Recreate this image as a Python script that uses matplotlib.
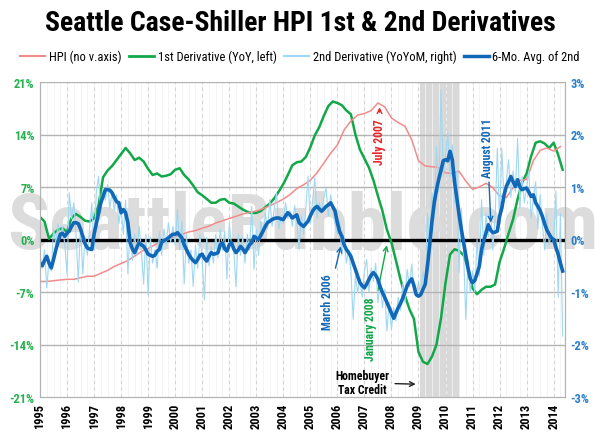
import numpy as np
import matplotlib
matplotlib.use("Agg")
import matplotlib.pyplot as plt
from matplotlib.lines import Line2D
from matplotlib import font_manager

# pick a narrow font if the machine has one, otherwise fall back to Liberation Sans
font_names = {f.name for f in font_manager.fontManager.ttflist}
narrow_names = sorted(n for n in font_names if 'Narrow' in n or 'Condensed' in n)
dejavu_cond = any(f.name == 'DejaVu Sans' and 'condensed' in str(f.stretch)
                  for f in font_manager.fontManager.ttflist)
if narrow_names:
    base_font = narrow_names[0]
    for pref in ('Roboto Condensed', 'Liberation Sans Narrow', 'Open Sans Condensed'):
        if pref in narrow_names:
            base_font = pref
            break
    narrow = True
elif dejavu_cond:
    base_font = 'DejaVu Sans'
    plt.rcParams['font.stretch'] = 'condensed'
    narrow = True
else:
    base_font = 'Liberation Sans'
    narrow = False
plt.rcParams['font.family'] = [base_font, 'DejaVu Sans']

if narrow:
    fs_title, fs_leg, fs_tick, fs_ann, fs_wm = 20, 9, 9, 8.5, 56
else:
    fs_title, fs_leg, fs_tick, fs_ann, fs_wm = 14.5, 7.4, 8, 7.8, 45

# ---- data ----
start_year = 1995

# 2nd derivative, YoYoM (right axis, %), monthly Jan 1995 - May 2014
second_deriv = [
    -0.30, -0.55, -0.20, -0.92, -0.40, -0.60, 0.20, -0.10, 0.30, 0.05, 0.25, -0.10,   # 1995
    -0.66, 0.89, 0.40, 0.70, 0.10, -0.81, 0.30, -0.66, 0.05, -0.30, 0.20, 0.70,       # 1996
    -0.20, 0.90, 1.20, 0.50, 0.95, 0.75, 1.05, 0.60, 0.90, 0.55, 0.85, 0.30,          # 1997
    0.60, 0.10, 0.75, -0.65, 0.20, -0.40, 0.10, -0.30, 0.25, -0.20, -0.85, 0.10,      # 1998
    -1.06, 0.05, -0.45, -0.20, -0.55, 0.15, -0.30, 0.20, -0.10, 0.32, -0.05, 0.25,    # 1999
    -0.10, 0.57, -0.20, 0.35, -0.84, 0.10, -0.45, -0.20, -0.89, -0.10, -0.55, 0.10,   # 2000
    -0.40, -1.15, 0.05, -0.50, -0.15, -0.45, 0.10, -0.35, 0.20, -0.20, 0.15, -0.75,   # 2001
    0.30, -0.10, -0.20, -0.90, 0.10, -0.30, 0.05, -0.45, 0.10, -0.20, 0.63, -0.57,    # 2002
    0.20, -0.30, 0.35, 0.05, 0.50, 0.20, 0.76, 0.25, 0.60, 0.89, 0.20, 0.45,          # 2003
    0.30, 0.70, 0.40, 0.55, 0.25, 0.65, 0.35, -0.19, 0.45, 0.10, 0.60, 1.20,          # 2004
    0.30, 0.75, 1.18, 0.40, 0.70, 0.50, 0.80, 0.98, 0.45, 0.85, 0.60, 0.30,           # 2005
    0.10, 0.35, -0.30, 0.05, -0.45, -0.20, -0.60, -1.52, -0.70, -1.01, -0.75, -1.10,  # 2006
    -0.60, -0.38, -1.00, -0.55, -0.80, -0.45, -1.20, -0.85, -1.30, -0.95, -1.74, -1.20,  # 2007
    -1.71, -1.30, -1.55, -1.10, -1.35, -0.85, -1.20, -0.57, -0.90, -0.47, -1.00, -1.08,  # 2008
    -0.80, -1.08, -0.60, -0.90, 0.51, -0.20, 0.89, 0.40, 1.77, 0.90, 2.85, 1.20,      # 2009
    1.60, 2.03, 1.20, 1.80, 0.70, 1.30, -0.63, 0.60, -0.20, -1.52, -0.40, -1.00,      # 2010
    -0.60, -1.00, 0.00, -0.70, 0.76, -0.30, 0.50, 0.05, 0.60, -0.20, 0.40, 1.74,      # 2011
    0.30, 1.74, 0.70, 1.10, 1.52, 0.80, 1.30, 0.90, 1.93, 0.60, 1.20, 0.70,           # 2012
    1.00, 1.30, 0.40, 0.80, 1.10, 0.20, 0.85, 0.30, -0.20, 0.50, -0.10, 0.10,         # 2013
    -0.10, 0.92, -1.10, 0.50, -1.84,                                                  # 2014
]

# 6-month average of the 2nd derivative (right axis, %), monthly
avg_6mo = [
    -0.45, -0.50, -0.40, -0.32, -0.45, -0.54, -0.38, -0.20, -0.05, 0.10, 0.12, 0.06,
    0.12, 0.16, 0.25, 0.32, 0.32, 0.30, 0.20, 0.06, -0.08, -0.16, -0.18, -0.19,
    0.10, 0.30, 0.51, 0.70, 0.82, 0.95, 0.95, 0.94, 0.89, 0.80, 0.72, 0.70,
    0.51, 0.57, 0.51, 0.32, -0.06, -0.18, -0.25, -0.15, -0.06, -0.10, -0.13, -0.20,
    -0.28, -0.30, -0.32, -0.30, -0.22, -0.19, -0.05, -0.02, 0.00, 0.03, 0.07, 0.10,
    0.10, 0.13, 0.08, 0.03, -0.10, -0.19, -0.28, -0.35, -0.40, -0.44, -0.38, -0.30,
    -0.28, -0.36, -0.41, -0.32, -0.25, -0.28, -0.27, -0.25, -0.10, -0.06, -0.18, -0.22,
    -0.10, -0.06, -0.18, -0.25, -0.20, -0.13, -0.18, -0.25, -0.18, -0.10, -0.06, 0.06,
    0.03, 0.00, 0.08, 0.16, 0.25, 0.32, 0.35, 0.38, 0.40, 0.41, 0.41, 0.39,
    0.38, 0.45, 0.51, 0.47, 0.41, 0.44, 0.47, 0.32, 0.28, 0.25, 0.30, 0.35,
    0.45, 0.54, 0.60, 0.63, 0.58, 0.54, 0.58, 0.63, 0.66, 0.70, 0.62, 0.54,
    0.32, 0.15, 0.06, -0.10, -0.19, -0.25, -0.32, -0.45, -0.57, -0.70, -0.82, -0.88,
    -0.92, -0.85, -0.76, -0.68, -0.63, -0.68, -0.76, -0.90, -1.01, -1.10, -1.20, -1.30,
    -1.40, -1.50, -1.40, -1.30, -1.22, -1.12, -1.00, -0.88, -0.80, -0.75, -0.88, -1.05,
    -1.08, -1.05, -0.95, -0.85, -0.50, -0.10, 0.35, 0.70, 0.95, 1.15, 1.32, 1.50,
    1.52, 1.50, 1.68, 1.52, 1.10, 0.80, 0.48, 0.20, -0.05, -0.30, -0.55, -0.75,
    -0.82, -0.78, -0.65, -0.51, -0.19, -0.02, 0.13, 0.28, 0.18, 0.13, 0.14, 0.16,
    0.44, 0.60, 0.85, 1.01, 1.10, 1.20, 1.10, 1.01, 1.14, 1.00, 0.95, 0.97,
    0.98, 0.90, 0.82, 0.85, 0.70, 0.63, 0.55, 0.44, 0.30, 0.18, 0.10, 0.03,
    0.00, -0.15, -0.28, -0.45, -0.60,
]

# 1st derivative, YoY (left axis, %), every other month (Jan, Mar, May, Jul, Sep, Nov)
first_deriv = [
    3.0, 2.4, 0.1, 0.8, 1.3, 1.5,          # 1995
    1.0, 2.9, 3.4, 3.0, 2.5, 2.4,          # 1996
    2.8, 4.6, 8.3, 9.2, 9.8, 10.6,         # 1997
    11.4, 12.2, 11.5, 10.6, 10.9, 10.4,    # 1998
    9.4, 8.6, 8.8, 8.4, 8.5, 8.7,          # 1999
    9.3, 9.5, 8.6, 8.0, 7.2, 6.3,          # 2000
    5.9, 5.4, 4.9, 4.9, 5.3, 5.4,          # 2001
    4.9, 4.8, 4.4, 4.0, 3.7, 3.5,          # 2002
    3.55, 3.8, 4.3, 4.8, 5.5, 6.4,         # 2003
    7.4, 8.6, 9.9, 10.3, 10.4, 11.0,       # 2004
    12.3, 13.9, 15.0, 16.5, 17.8, 18.4,    # 2005
    18.2, 17.9, 17.2, 16.7, 14.0, 12.0,    # 2006
    10.8, 9.6, 7.9, 5.8, 3.8, 1.3,         # 2007
    -0.4, -2.8, -5.3, -7.5, -9.3, -10.6,   # 2008
    -15.0, -16.3, -16.6, -15.6, -14.0, -10.5,  # 2009
    -5.8, -2.0, -1.3, -1.5, -2.1, -3.8,    # 2010
    -6.5, -7.3, -6.7, -6.3, -6.3, -6.0,    # 2011
    -3.0, -1.2, 0.8, 2.7, 5.4, 7.6,        # 2012
    8.8, 11.1, 12.9, 13.1, 12.8, 12.2,     # 2013
    12.9, 11.3, 9.3,                       # 2014
]

# Case-Shiller HPI (no vertical axis), quarterly (Jan, Apr, Jul, Oct)
hpi = [
    77.0, 77.0, 77.5, 78.0,
    78.4, 78.4, 79.4, 80.4,
    80.4, 82.3, 84.2, 86.7,
    88.6, 90.5, 93.4, 96.3,
    98.3, 100.7, 102.6, 104.0,
    106.0, 107.4, 108.9, 109.8,
    111.3, 112.7, 114.7, 116.1,
    117.6, 119.0, 120.5, 121.5,
    122.4, 123.9, 125.8, 127.8,
    130.1, 133.0, 136.9, 139.3,
    142.2, 147.1, 153.3, 159.6,
    164.9, 174.6, 180.4, 184.2,
    185.2, 187.1, 192.0, 189.5,
    182.3, 179.4, 177.0, 168.3,
    154.8, 151.4, 150.9, 150.4,
    147.0, 146.6, 148.0, 141.7,
    136.4, 137.9, 140.3, 137.4,
    132.1, 131.1, 137.4, 142.2,
    142.7, 154.8, 161.5, 163.0,
    161.0, 163.9,
]

tax_credit = (2009.04, 2010.54)
year_labels = list(range(1995, 2015))
left_ticks = [-21, -14, -7, 0, 7, 14, 21]
right_ticks = [-3, -2, -1, 0, 1, 2, 3]

t_month = start_year + np.arange(len(second_deriv)) / 12
t_bimonth = start_year + np.arange(len(first_deriv)) / 6
t_quarter = start_year + np.arange(len(hpi)) / 4

# ---- colours ----
c_hpi = '#f28b8b'
c_first = '#12a84a'
c_second = '#9fd8f2'
c_avg = '#1268b8'

fig = plt.figure(figsize=(6, 4.35), dpi=100)
ax = fig.add_axes([40/600, 37/435, 525/600, 315/435])

# shading + grid
ax.axvspan(tax_credit[0], tax_credit[1], color='#d9d9d9', zorder=0, lw=0)
for q in np.arange(1995, 2014.5, 0.25):
    ax.axvline(q, color='#f2f2f2', lw=0.6, zorder=0.5)
for y in year_labels:
    ax.axvline(y, color='#d4d4d4', lw=0.8, ls=(0, (3, 3)), zorder=0.6)
for v in [-14, -7, 7, 14, 21]:
    ax.axhline(v, color='#b3b3b3', lw=1.0, zorder=0.7)

# watermark, behind the lines
ax.text(0.5, (0.43 * 435 - 37) / 315, 'SeattleBubble.com', transform=ax.transAxes,
        ha='center', va='baseline', fontsize=fs_wm, fontweight='bold', color='#dcdcdc',
        zorder=0.8, clip_on=False)

ax.plot(t_bimonth, first_deriv, color=c_first, lw=1.8, zorder=3)
ax.axhline(0, color='black', lw=2.4, zorder=2.5)

ax.set_xlim(1995, 2014.42)
ax.set_ylim(-21, 21)
ax.set_yticks(left_ticks)
ax.set_yticklabels([f'{v}%' for v in left_ticks], color='#27b04f', fontweight='bold', fontsize=fs_tick)
ax.set_xticks(year_labels)
ax.set_xticklabels([str(y) for y in year_labels], rotation=90, fontweight='bold', fontsize=fs_tick)
ax.tick_params(length=0, pad=4)
ax.patch.set_visible(False)

# HPI on its own hidden scale
ax3 = ax.twinx()
ax3.plot(t_quarter, hpi, color=c_hpi, lw=1.1)
ax3.set_ylim(2.6, 205.5)
ax3.set_yticks([])
for s in ax3.spines.values():
    s.set_visible(False)

# 2nd derivative and its 6-month average on the right scale
ax2 = ax.twinx()
ax2.plot(t_month, second_deriv, color=c_second, lw=0.8)
ax2.plot(t_month, avg_6mo, color=c_avg, lw=2.6)
ax2.set_ylim(-3, 3)
ax2.set_yticks(right_ticks)
ax2.set_yticklabels([f'{v}%' for v in right_ticks], color='#2a7fcc', fontweight='bold', fontsize=fs_tick)
ax2.tick_params(length=0, pad=4)

for a in (ax, ax2):
    for side in ('left', 'right', 'bottom'):
        a.spines[side].set_color('#b3b3b3')
    a.spines['top'].set_visible(False)

# annotations
ax3.annotate('July 2007', xy=(2007.56, 191), xytext=(2007.56, 153),
             color='#e8262a', rotation=90, ha='center', va='bottom', fontsize=fs_ann, fontweight='bold',
             arrowprops=dict(arrowstyle='->', color='#e8262a', lw=1))
ax2.annotate('March 2006', xy=(2006.15, -0.08), xytext=(2005.63, -0.65),
             color=c_avg, rotation=90, ha='center', va='top', fontsize=fs_ann, fontweight='bold',
             arrowprops=dict(arrowstyle='->', color=c_avg, lw=1))
ax.annotate('January 2008', xy=(2007.85, -0.4), xytext=(2007.22, -7.6),
            color=c_first, rotation=90, ha='center', va='top', fontsize=fs_ann, fontweight='bold',
            arrowprops=dict(arrowstyle='->', color=c_first, lw=1))
ax2.annotate('August 2011', xy=(2011.68, 0.27), xytext=(2011.55, 1.2),
             color=c_avg, rotation=90, ha='center', va='bottom', fontsize=fs_ann, fontweight='bold',
             arrowprops=dict(arrowstyle='->', color=c_avg, lw=1))
ax.annotate('Homebuyer\nTax Credit', xy=(2009.0, -19.3), xytext=(2006.93, -19.1),
            ha='center', va='center', multialignment='center', fontsize=fs_ann, fontweight='bold',
            linespacing=1.1, arrowprops=dict(arrowstyle='->', color='#222222', lw=1))

fig.text(0.5, 0.945, 'Seattle Case-Shiller HPI 1st & 2nd Derivatives', ha='center', va='center',
         fontsize=fs_title, fontweight='bold')

handles = [Line2D([], [], color=c_hpi, lw=1.5), Line2D([], [], color=c_first, lw=2),
           Line2D([], [], color=c_second, lw=1.5), Line2D([], [], color=c_avg, lw=2.5)]
labels = ['HPI (no v.axis)', '1st Derivative (YoY, left)', '2nd Derivative (YoYoM, right)',
          '6-Mo. Avg. of 2nd']
fig.legend(handles, labels, loc='center', bbox_to_anchor=(0.5, 0.868), ncol=4, frameon=False,
           fontsize=fs_leg, handlelength=2.0, handletextpad=0.3, columnspacing=0.6)

fig.savefig('out.png', dpi=100)
